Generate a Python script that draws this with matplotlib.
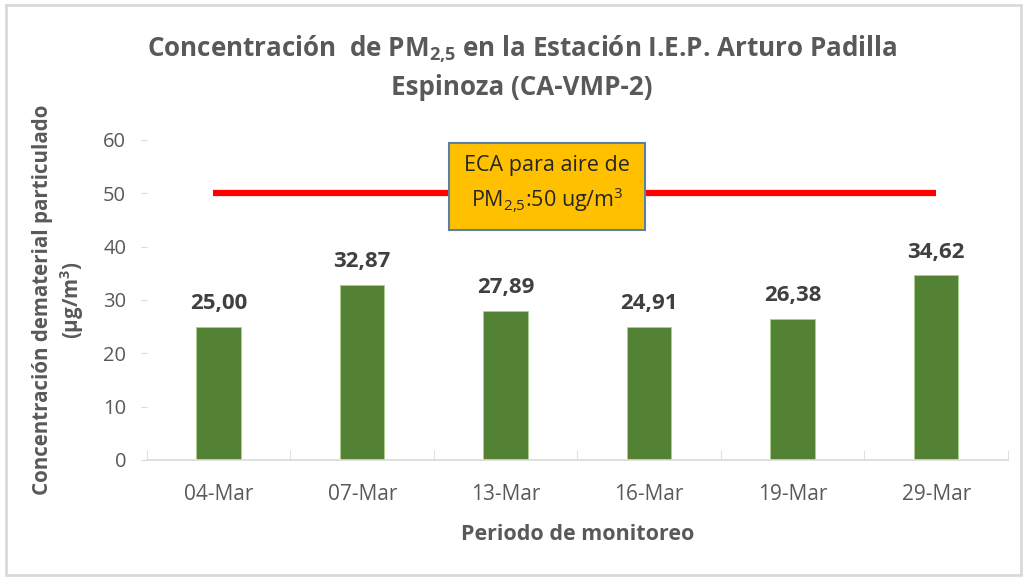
import matplotlib.pyplot as plt
from matplotlib.patches import Rectangle

plt.rcParams['font.family'] = ['Open Sans', 'DejaVu Sans']
plt.rcParams['mathtext.default'] = 'regular'

# datos
fechas = ['04-Mar', '07-Mar', '13-Mar', '16-Mar', '19-Mar', '29-Mar']
pm25 = [25.00, 32.87, 27.89, 24.91, 26.38, 34.62]
eca = 50
yticks = [0, 10, 20, 30, 40, 50, 60]

gris = '#595959'
fig = plt.figure(figsize=(10.27, 5.78), dpi=100)
ax = fig.add_axes([0.1431, 0.2042, 0.8384, 0.5536])

x = list(range(len(fechas)))
ax.bar(x, pm25, width=0.31, color='#548235', edgecolor='#A9D18E', linewidth=0.6, zorder=2)

# etiquetas de las barras (coma decimal)
for xi, v in zip(x, pm25):
    ax.text(xi, v + 2.4, f'{v:.2f}'.replace('.', ','), ha='center', va='bottom',
            fontsize=16, fontweight='bold', color='#404040')

# linea del ECA
ax.hlines(eca, x[0] - 0.04, x[-1], color='#FF0000', linewidth=4.5, zorder=3)
ax.text(2.29, eca + 1.5, 'ECA para aire de\nPM$_{2{,}5}$:50 ug/m$^{3}$', ha='center', va='center',
        fontsize=15.5, color='#262626', linespacing=1.45, zorder=4,
        bbox=dict(boxstyle='square,pad=0.7', facecolor='#FFC000', edgecolor='#5B7FA6', linewidth=1.5))

ax.set_xlim(-0.5, len(fechas) - 0.5)
ax.set_ylim(0, 60)
ax.set_yticks(yticks)
ax.set_xticks(x)
ax.set_xticklabels(fechas)
ax.tick_params(axis='y', length=4, color='#D9D9D9', labelsize=14.5, labelcolor=gris, pad=11)
ax.tick_params(axis='x', length=0, labelsize=15, labelcolor=gris, pad=17)
# ticks entre categorias
ax.set_xticks([i - 0.5 for i in range(len(fechas) + 1)], minor=True)
ax.tick_params(axis='x', which='minor', direction='in', length=7, color='#D9D9D9')

for s in ['top', 'right', 'left']:
    ax.spines[s].set_visible(False)
ax.spines['bottom'].set_color('#D9D9D9')
ax.spines['bottom'].set_linewidth(1.2)

ax.set_xlabel('Periodo de monitoreo', fontsize=15.5, fontweight='bold', color=gris, labelpad=14)
ax.set_ylabel('Concentración dematerial particulado\n(µg/m$^{3}$)', fontsize=14.8,
              fontweight='bold', color=gris, labelpad=12, linespacing=1.25)

fig.text(0.508, 0.884, 'Concentración  de PM$_{2{,}5}$ en la Estación I.E.P. Arturo Padilla\nEspinoza (CA-VMP-2)',
         ha='center', va='center', fontsize=18.7, fontweight='bold', color=gris, linespacing=1.42)

# marco del grafico
fig.patches.append(Rectangle((6 / 1027, 3 / 578), 1015 / 1027, 570 / 578, transform=fig.transFigure,
                             fill=False, edgecolor='#D9D9D9', linewidth=2))

fig.savefig('out.png', dpi=100)
